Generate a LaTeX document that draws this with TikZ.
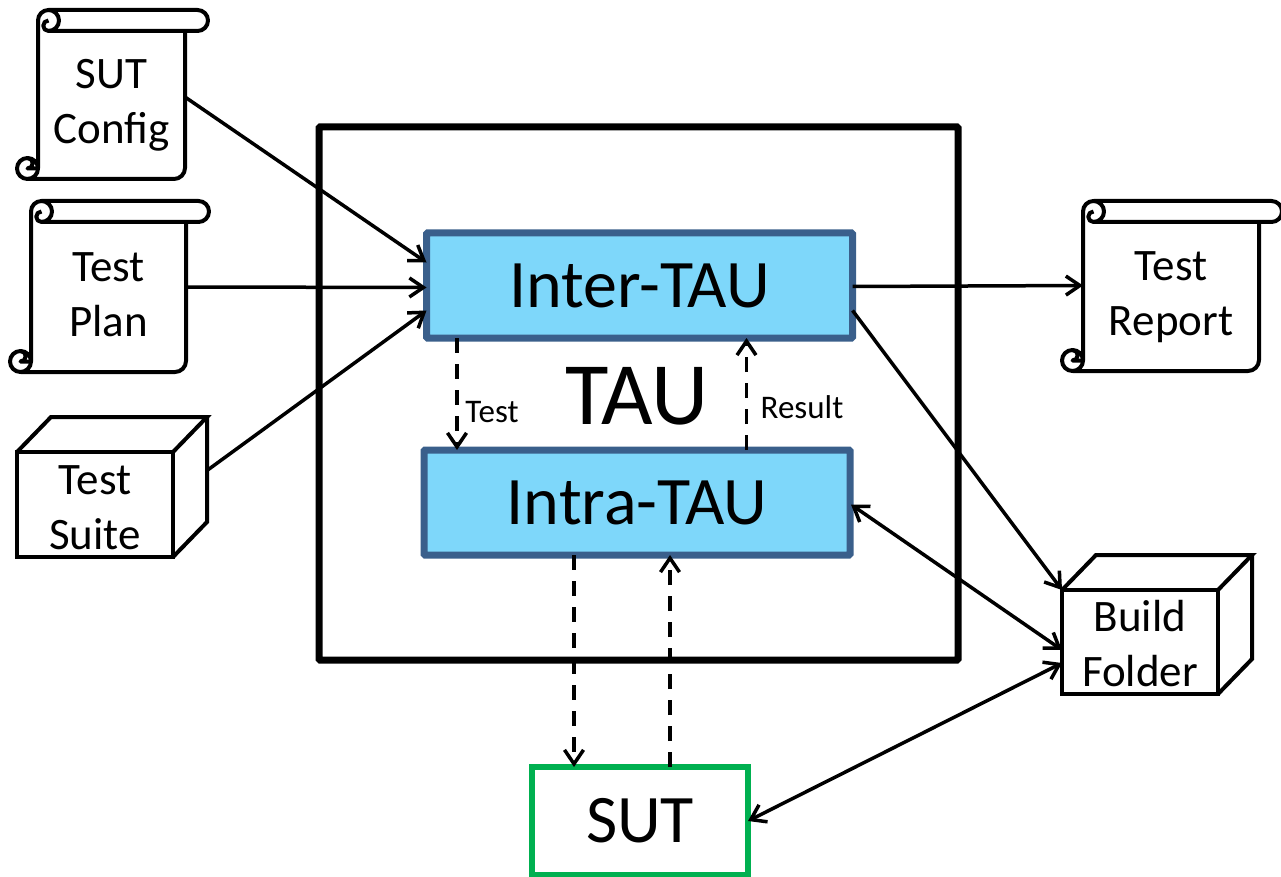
\documentclass[tikz,border=0pt]{standalone}
\usepackage{fontspec}
\setmainfont{Carlito}
\usetikzlibrary{arrows.meta,positioning,calc}

\definecolor{taufill}{RGB}{126,215,250}
\definecolor{taudraw}{RGB}{58,95,139}
\definecolor{sutdraw}{RGB}{0,176,80}

\tikzset{
	doc/.style={inner sep=0pt,outer sep=0pt,anchor=north west},
	doctext/.style={font=\fontsize{45}{55}\selectfont,align=center,inner sep=0pt},
	docline/.style={line width=4pt,line join=round},
	tauunit/.style={draw=taudraw,fill=taufill,line width=7pt,rounded corners=1pt,inner sep=0pt,outer sep=0pt,
		minimum width=426pt,minimum height=105pt,font=\fontsize{68}{68}\selectfont},
	barb/.tip={Straight Barb[length=14pt,width=19pt,line width=3.5pt]},
	link/.style={line width=3.5pt,-barb},
	linkboth/.style={line width=3.5pt,barb-barb},
	dashlink/.style={link,dash pattern=on 15pt off 11pt},
	small/.style={font=\fontsize{33}{33}\selectfont,inner sep=0pt}
}

% name, left, top of body, width, height, text, text shift
\newcommand{\scrollnode}[7]{
	\node[doc,minimum width=#4pt,minimum height=#5pt] (#1) at (#2,#3) {};
	\begin{scope}[shift={(#1.north west)},docline]
		\draw (0,#5-10.5) -- (0,-10.5) arc[start angle=180,end angle=270,radius=10.5] -- (#4+12.5,-21)
			arc[start angle=270,end angle=450,radius=10.5] -- (10.5,0);
		\draw (10.5,-21) arc[start angle=270,end angle=450,radius=10.5]
			arc[start angle=90,end angle=270,radius=5.25];
		\draw (#4,0) -- (#4,#5-11) arc[start angle=0,end angle=90,radius=11] -- (-10.5,#5);
		\draw (-10.5,#5-10.5) circle[radius=10.5];
		\draw (-10.5,#5-21) arc[start angle=270,end angle=450,radius=5.25] -- (0,#5-10.5);
	\end{scope}
	\node[doctext] (#1text) at ([yshift=#7pt]#1.center) {#6};
}
% name, left, top of front, width, height, text, text shift
\newcommand{\cubenode}[7]{
	\node[doc,draw,line width=4pt,minimum width=#4pt,minimum height=#5pt] (#1) at (#2,#3) {};
	\begin{scope}[shift={(#1.north west)},docline,line join=miter]
		\draw (0,0) -- (34,-35) -- (#4+34,-35) -- (#4,0);
		\draw (#4+34,-35) -- (#4+34,#5-35) -- (#4,#5);
	\end{scope}
	\node[doctext] (#1text) at ([yshift=#7pt]#1.center) {#6};
}

\begin{document}
\begin{tikzpicture}[x=1pt,y=-1pt]
	\useasboundingbox (0,0) rectangle (1281,877);
	% frame and units
	\node[draw,line width=7pt,rounded corners=1pt,minimum width=639pt,minimum height=533pt,inner sep=0pt,outer sep=0pt] (frame) at (638.5,393.5) {};
	\node[tauunit] (inter) at (639.5,285.5) {Inter-TAU};
	\node[tauunit] (intra) at (637,502.5) {Intra-TAU};
	\node[font=\fontsize{89}{89}\selectfont,inner sep=0pt] (tau) at (637,396) {TAU};
	\node[draw=sutdraw,line width=6.5pt,minimum width=216pt,minimum height=108pt,inner sep=0pt,outer sep=0pt,font=\fontsize{68}{68}\selectfont] (sut) at (640,821) {\raisebox{-2pt}{SUT}};
	% documents
	\scrollnode{cfg}{38}{31}{147}{148}{SUT\\Config}{0}
	\scrollnode{plan}{31}{222}{155}{150}{Test\\Plan}{2}
	\scrollnode{report}{1083}{222}{176}{149}{Test\\Report}{-1}
	\cubenode{suite}{17}{452}{156}{105}{Test\\Suite}{-3}
	\cubenode{build}{1062}{590}{156}{104}{Build\\Folder}{-2}
	% links
	\draw[link] ([yshift=8pt]cfg.east) -- ([yshift=23pt]inter.west);
	\draw[link] ([yshift=10pt]plan.east) -- ([yshift=-2pt]inter.west);
	\draw[link] ([xshift=34pt,yshift=34pt]suite.east) -- ([yshift=-25pt]inter.west);
	\draw[link] ([yshift=-1pt]inter.east) -- ([yshift=11pt]report.west);
	\draw[link] ([yshift=-25pt]inter.east) -- (build.north west);
	\draw[linkboth] ([yshift=-2pt,xshift=1pt]intra.east) -- ([yshift=-8pt]build.west);
	\draw[linkboth] (sut.east) -- ([yshift=-21pt]build.west);
	% dashed links
	\draw[dashlink] ([xshift=-182.5pt]inter.south) -- ([xshift=-180pt]intra.north);
	\draw[dashlink] ([xshift=109.5pt]intra.north) -- ([xshift=107pt]inter.south);
	\draw[dashlink] ([xshift=-63pt]intra.south) -- ([xshift=-66pt]sut.north);
	\draw[dashlink] ([xshift=30pt]sut.north) -- ([xshift=33pt]intra.south);
	\node[small] (testlabel) at (492,412) {Test};
	\node[small] (resultlabel) at (802,407) {Result};
\end{tikzpicture}
\end{document}
